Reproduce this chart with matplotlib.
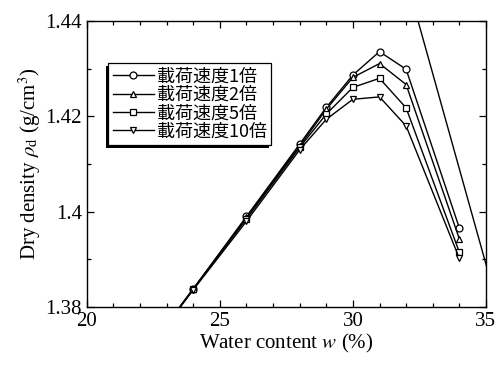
import matplotlib
matplotlib.use("Agg")
import matplotlib.pyplot as plt
from matplotlib.ticker import MultipleLocator, FuncFormatter
from matplotlib.patches import Rectangle

plt.rcParams['font.family'] = ['Liberation Serif', 'Noto Sans CJK SC']
plt.rcParams['mathtext.fontset'] = 'stix'

water = [22, 24, 26, 28, 29, 30, 31, 32, 34]
rho_1x = [1.3688, 1.3838, 1.3990, 1.4142, 1.4219, 1.4287, 1.4336, 1.4299, 1.3966]
rho_2x = [1.3688, 1.3838, 1.3988, 1.4138, 1.4215, 1.4282, 1.4311, 1.4267, 1.3943]
rho_5x = [1.3688, 1.3838, 1.3985, 1.4135, 1.4205, 1.4261, 1.4280, 1.4218, 1.3915]
rho_10x = [1.3688, 1.3836, 1.3980, 1.4130, 1.4194, 1.4236, 1.4241, 1.4180, 1.3902]
labels = ['載荷速度1倍', '載荷速度2倍', '載荷速度5倍', '載荷速度10倍']
markers = ['o', '^', 's', 'v']

zav_w = [32.0, 36.0]
zav_rho = [1.449, 1.369]

fig = plt.figure(figsize=(5.02, 3.65), dpi=100)
ax = fig.add_axes([0.173, 0.159, 0.795, 0.783])

for series, lab, mk in zip([rho_1x, rho_2x, rho_5x, rho_10x], labels, markers):
    ax.plot(water, series, color='black', lw=1.0, marker=mk, markersize=5,
            markerfacecolor='white', markeredgecolor='black', markeredgewidth=0.9,
            label=lab)

ax.plot(zav_w, zav_rho, color='black', lw=1.0)

ax.set_xlim(20, 35)
ax.set_ylim(1.38, 1.44)
ax.xaxis.set_major_locator(MultipleLocator(5))
ax.xaxis.set_minor_locator(MultipleLocator(1))
ax.yaxis.set_major_locator(MultipleLocator(0.02))
ax.yaxis.set_minor_locator(MultipleLocator(0.01))
ax.yaxis.set_major_formatter(FuncFormatter(lambda v, p: ('%.2f' % v).rstrip('0').rstrip('.')))
ax.tick_params(which='both', direction='in', top=True, right=True, labelsize=15, width=0.9)
ax.tick_params(which='major', length=5)
ax.tick_params(which='minor', length=3)
for s in ax.spines.values():
    s.set_linewidth(1.0)

ax.set_xlabel('Water content $w$ (%)', fontsize=15, labelpad=1)
ax.set_ylabel(r'Dry density $\rho_\mathrm{d}$ (g/cm$^3$)', fontsize=15, labelpad=2)

leg = ax.legend(loc='upper left', bbox_to_anchor=(0.053, 0.853),
                frameon=True, fancybox=False, edgecolor='black', framealpha=1,
                handlelength=2.3, handletextpad=0.15, labelspacing=0.02,
                borderpad=0.25, borderaxespad=0,
                prop={'family': ['Noto Sans CJK JP'], 'size': 13})
leg.get_frame().set_linewidth(0.9)
leg.set_zorder(6)

fig.canvas.draw()
bb = leg.get_window_extent().transformed(fig.transFigure.inverted())
shadow = Rectangle((bb.x0 - 2.0 / 502, bb.y0 - 3.0 / 365), bb.width, bb.height,
                   transform=fig.transFigure, facecolor='black', edgecolor='none',
                   zorder=5.5)
ax.add_artist(shadow)
shadow.set_clip_on(False)

fig.savefig('out.png', dpi=100)
